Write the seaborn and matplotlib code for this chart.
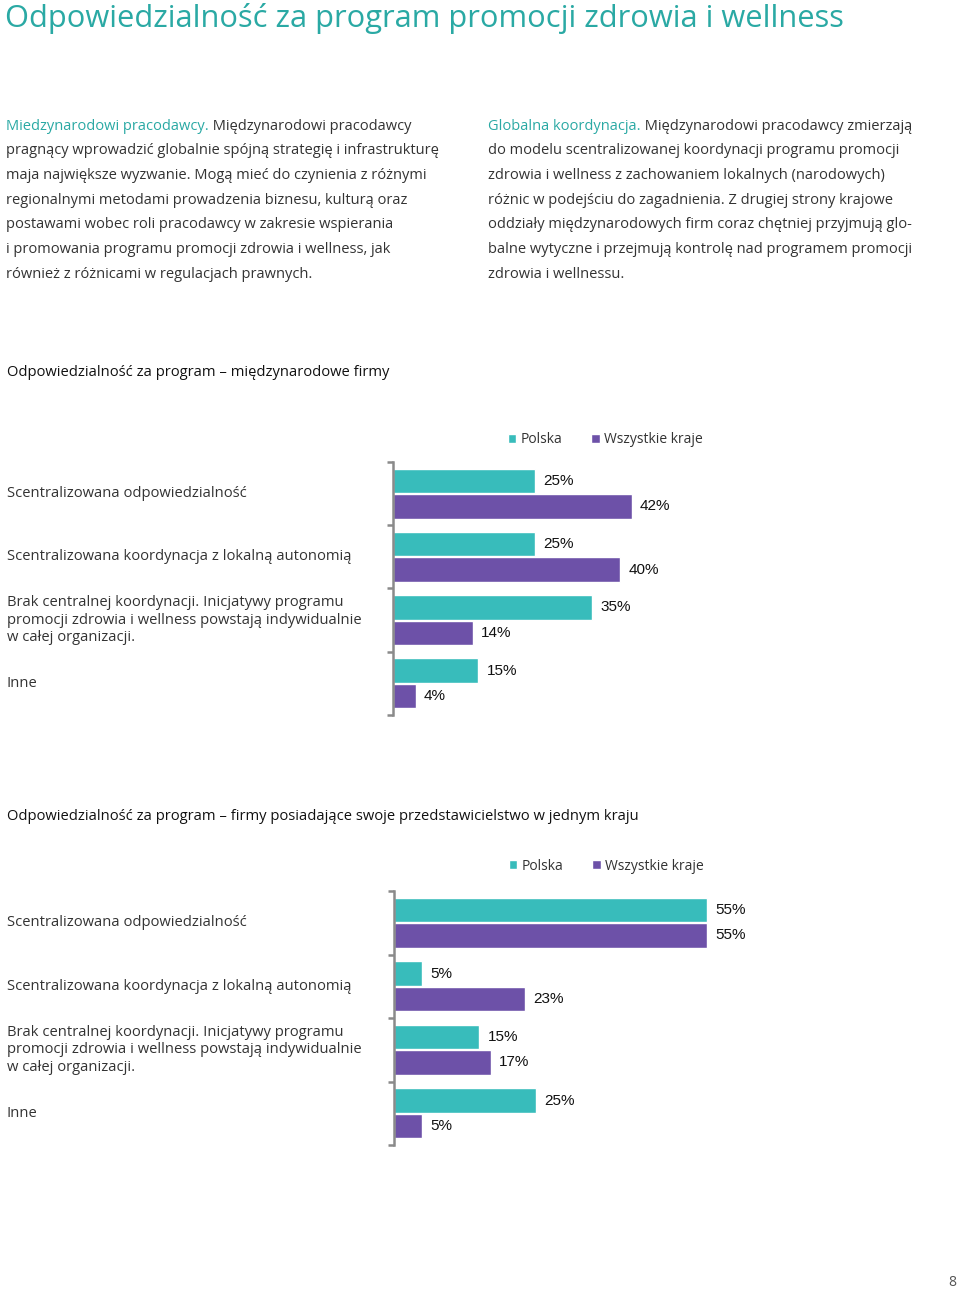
import numpy as np
import pandas as pd
import seaborn as sns
import matplotlib.pyplot as plt
import matplotlib.transforms as mtransforms

# %%
# data

categories = [
    "Scentralizowana odpowiedzialność",
    "Scentralizowana koordynacja z lokalną autonomią",
    "Brak centralnej koordynacji. Inicjatywy programu\n"
    "promocji zdrowia i wellness powstają indywidualnie\n"
    "w całej organizacji.",
    "Inne",
]
series = ["Polska", "Wszystkie kraje"]

intl_polska = [25, 25, 35, 15]
intl_all = [42, 40, 14, 4]
local_polska = [55, 5, 15, 25]
local_all = [55, 23, 17, 5]

page_title = "Odpowiedzialność za program promocji zdrowia i wellness"
chart_titles = [
    "Odpowiedzialność za program – międzynarodowe firmy",
    "Odpowiedzialność za program – firmy posiadające swoje przedstawicielstwo w jednym kraju",
]

left_lead = "Miedzynarodowi pracodawcy."
left_lines = [
    " Międzynarodowi pracodawcy",
    "pragnący wprowadzić globalnie spójną strategię i infrastrukturę",
    "maja największe wyzwanie. Mogą mieć do czynienia z różnymi",
    "regionalnymi metodami prowadzenia biznesu, kulturą oraz",
    "postawami wobec roli pracodawcy w zakresie wspierania",
    "i promowania programu promocji zdrowia i wellness, jak",
    "również z różnicami w regulacjach prawnych.",
]
right_lead = "Globalna koordynacja."
right_lines = [
    " Międzynarodowi pracodawcy zmierzają",
    "do modelu scentralizowanej koordynacji programu promocji",
    "zdrowia i wellness z zachowaniem lokalnych (narodowych)",
    "różnic w podejściu do zagadnienia. Z drugiej strony krajowe",
    "oddziały międzynarodowych firm coraz chętniej przyjmują glo-",
    "balne wytyczne i przejmują kontrolę nad programem promocji",
    "zdrowia i wellnessu.",
]

# %%
# style

sns.set_style("white")
plt.rcParams["font.family"] = ["Open Sans", "DejaVu Sans"]

TEAL = "#38bcbb"
PURPLE = "#6d51a8"
TITLE_TEAL = "#2aa9a4"
TEXT = "#333333"
SPINE = "#8a8a8a"

W, H = 960, 1290
fig = plt.figure(figsize=(W / 100, H / 100), dpi=100)

# background axes in pixel coordinates for page text
bg = fig.add_axes([0, 0, 1, 1])
bg.set_xlim(0, W)
bg.set_ylim(H, 0)
bg.axis("off")

bg.text(5, 19, page_title, fontsize=22.2, color=TITLE_TEAL, va="center")

BODY = 10.5


def paragraph(x, y0, lead, lines, step=24.7):
    t = bg.text(x, y0, lead, fontsize=BODY, color=TITLE_TEAL, va="center")
    bg.annotate(lines[0], xy=(1, 0), xycoords=t, va="bottom", ha="left",
                fontsize=BODY, color=TEXT)
    for i, line in enumerate(lines[1:], start=1):
        bg.text(x, y0 + i * step, line, fontsize=BODY, color=TEXT, va="center")


paragraph(6, 126, left_lead, left_lines)
paragraph(488, 126, right_lead, right_lines)

bg.text(952, 1282, "8", fontsize=10, color="#555555", ha="center", va="center")


# %%
# charts

def bar_chart(rect, values_pl, values_all, legend_y, legend_x):
    df = pd.DataFrame({
        "kategoria": categories * 2,
        "seria": [series[0]] * len(categories) + [series[1]] * len(categories),
        "wartosc": values_pl + values_all,
    })
    ax = fig.add_axes(rect)
    sns.barplot(data=df, x="wartosc", y="kategoria", hue="seria",
                palette=[TEAL, PURPLE], orient="h", width=0.8, gap=0.03,
                saturation=1, ax=ax)
    ax.set_xlim(0, 60)
    ax.set_ylim(len(categories) - 0.5, -0.5)
    ax.set_xlabel("")
    ax.set_ylabel("")
    ax.set_xticks([])
    ax.set_yticks([])
    ax.set_yticks(np.arange(-0.5, len(categories)), minor=True)
    ax.tick_params(axis="y", which="minor", length=4, width=1.8,
                   color=SPINE, direction="out", left=True)
    sns.despine(ax=ax, top=True, right=True, bottom=True)
    ax.spines["left"].set_color(SPINE)
    ax.spines["left"].set_linewidth(1.8)
    ax.patch.set_alpha(0)

    for cont in ax.containers:
        ax.bar_label(cont, fmt="{:.0f}%", padding=6, fontsize=11,
                     family="Liberation Sans", color="#111111")

    # category labels at the page's left margin
    trans = mtransforms.blended_transform_factory(fig.transFigure, ax.transData)
    for i, lab in enumerate(categories):
        ax.text(7 / W, i, lab, transform=trans, fontsize=10.6, color=TEXT,
                va="center", ha="left", linespacing=1.25)

    handles, labels = ax.get_legend_handles_labels()
    ax.legend_.remove()
    fig.legend(handles, labels, loc="center left",
               bbox_to_anchor=(legend_x / W, 1 - legend_y / H), ncol=2,
               frameon=False, handlelength=0.6, handleheight=0.6,
               handletextpad=0.3, columnspacing=2.1, fontsize=10.0,
               borderpad=0, borderaxespad=0, labelcolor=TEXT)
    return ax


ax1 = bar_chart([393 / W, 1 - 715 / H, 341 / W, 253 / H],
                intl_polska, intl_all, 440, 508)
bg.text(7, 372, chart_titles[0], fontsize=10.6, color="#111111", va="center")

ax2 = bar_chart([394 / W, 1 - 1145 / H, 341 / W, 254 / H],
                local_polska, local_all, 866, 509)
bg.text(7, 816, chart_titles[1], fontsize=10.6, color="#111111", va="center")

fig.savefig("out.png", dpi=100)
